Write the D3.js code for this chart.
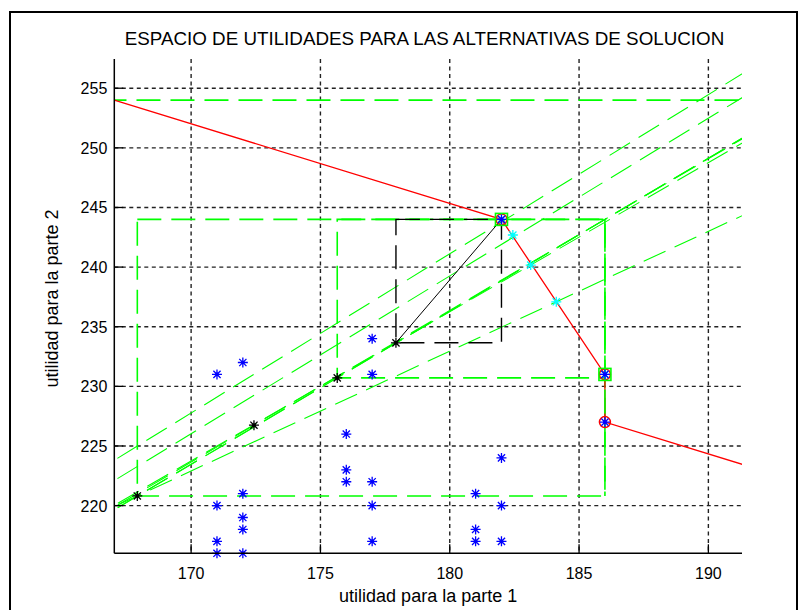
<!DOCTYPE html>
<html><head><meta charset="utf-8">
<script src="https://cdn.jsdelivr.net/npm/d3@7"></script>
<style>body{margin:0;background:#fff}svg{display:block}text{font-family:"Liberation Sans",Arial,sans-serif;fill:#000}</style>
</head><body>
<svg id="c" width="805" height="610"></svg>
<script>
// ---- data ----
const title = "ESPACIO DE UTILIDADES PARA LAS ALTERNATIVAS DE SOLUCION";
const xLabel = "utilidad para la parte 1";
const yLabel = "utilidad para la parte 2";
const xTicks = [170, 175, 180, 185, 190];
const yTicks = [220, 225, 230, 235, 240, 245, 250, 255];
const xDomain = [167.03, 191.3];
const yDomain = [216, 257.45];
// alternatives (blue *)
const alternatives = [
  [171,231],[171,220],[171,217],[171,216],
  [172,232],[172,221],[172,219],[172,218],[172,216],
  [176,226],[176,223],[176,222],
  [177,234],[177,231],[177,222],[177,220],[177,217],
  [181,221],[181,218],[181,217],
  [182,224],[182,220],[182,217],
  [182,244],[186,231],[186,227]
];
// Pareto frontier (red)
const frontier = [[167.03,254],[182,244],[186,231],[186,227],[192,223]];
// disagreement points (black *)
const disagreement = [[167.92,220.81],[172.43,226.74],[175.65,230.71],[177.92,233.65]];
// solutions on frontier (cyan *)
const solutions = [[182.44,242.69],[183.13,240.17],[184.12,237.09],[182,244],[186,231]];
// frontier vertices marked with green squares
const squares = [[182,244],[186,231]];
// red circles
const circles = [[182,244],[186,231],[186,227]];
// green dashed rectangles [x0,y0,x1,y1]
const greenRects = [[167.92,220.81,186,244],[175.65,230.71,186,244],[160,210,195,254]];
// black dashed rectangle
const blackRect = [177.92,233.65,182,244];
// black solid segment
const blackSeg = [[177.92,233.65],[182,244]];
// green dashed diagonal lines (two points each, extended)
const greenLines = [
  [167.92,220.81,186,244],
  [172.43,226.74,186,244],
  [175.65,230.71,186,244],
  [177.92,233.65,183.13,240.17],
  [167.92,220.81,184.12,237.09],
  [167.03,223.8,191.3,256.2],
  [167.03,222.1,191.3,254.2]
];

// ---- chart ----
const svg = d3.select("#c");
const L = 114.3, R = 742, T = 59, B = 553.3;
const x = d3.scaleLinear().domain(xDomain).range([L, R]);
const y = d3.scaleLinear().domain(yDomain).range([B, T]);

svg.append("rect").attr("x",0).attr("y",0).attr("width",805).attr("height",610).attr("fill","#fff");
svg.append("rect").attr("x",10).attr("y",12).attr("width",787).attr("height",620)
  .attr("fill","none").attr("stroke","#000").attr("stroke-width",2);

svg.append("defs").append("clipPath").attr("id","clip")
  .append("rect").attr("x",L).attr("y",T).attr("width",R-L).attr("height",B-T);
const g = svg.append("g").attr("clip-path","url(#clip)");

// grid
g.selectAll(".gx").data(xTicks).join("line")
  .attr("x1",d=>x(d)).attr("x2",d=>x(d)).attr("y1",T).attr("y2",B)
  .attr("stroke","#222").attr("stroke-width",1.4).attr("stroke-dasharray","4,3.5");
g.selectAll(".gy").data(yTicks).join("line")
  .attr("x1",L).attr("x2",R).attr("y1",d=>y(d)).attr("y2",d=>y(d))
  .attr("stroke","#222").attr("stroke-width",1.4).attr("stroke-dasharray","4,3.5");

// green diagonal lines extended over domain
g.selectAll(".gl").data(greenLines).join("line")
  .each(function(d){
    const s = (d[3]-d[1])/(d[2]-d[0]);
    const xa = xDomain[0]-1, xb = xDomain[1]+1;
    d3.select(this).attr("x1",x(xa)).attr("y1",y(d[1]+s*(xa-d[0])))
      .attr("x2",x(xb)).attr("y2",y(d[1]+s*(xb-d[0])));
  })
  .attr("stroke","#00ff00").attr("stroke-width",1.1).attr("stroke-dasharray","24,10");

// green rectangles
g.selectAll(".gr").data(greenRects).join("rect")
  .attr("x",d=>x(d[0])).attr("y",d=>y(d[3]))
  .attr("width",d=>x(d[2])-x(d[0])).attr("height",d=>y(d[1])-y(d[3]))
  .attr("fill","none").attr("stroke","#00ff00").attr("stroke-width",1.6).attr("stroke-dasharray","24,10");

// black dashed rect
g.append("rect").attr("x",x(blackRect[0])).attr("y",y(blackRect[3]))
  .attr("width",x(blackRect[2])-x(blackRect[0])).attr("height",y(blackRect[1])-y(blackRect[3]))
  .attr("fill","none").attr("stroke","#000").attr("stroke-width",1.4).attr("stroke-dasharray","24,10");

// black segment
g.append("path").attr("d",d3.line().x(d=>x(d[0])).y(d=>y(d[1]))(blackSeg))
  .attr("stroke","#000").attr("stroke-width",1).attr("fill","none");

// red frontier
g.append("path").attr("d",d3.line().x(d=>x(d[0])).y(d=>y(d[1]))(frontier))
  .attr("stroke","#ff0000").attr("stroke-width",1.3).attr("fill","none");

// green vertical edge redrawn over red (as in reference)
g.append("line").attr("x1",x(186)).attr("x2",x(186)).attr("y1",y(244)).attr("y2",y(220.81))
  .attr("stroke","#00ff00").attr("stroke-width",1.6).attr("stroke-dasharray","24,10");

const star = "M-5,0L5,0M0,-5L0,5M-3.6,-3.6L3.6,3.6M-3.6,3.6L3.6,-3.6";
function stars(data, color){
  const s = svg.append("g");
  s.selectAll("path").data(data).join("path")
    .attr("transform",d=>`translate(${x(d[0])},${y(d[1])})`)
    .attr("d",star).attr("stroke",color).attr("stroke-width",1.3).attr("fill","none");
  s.selectAll("circle").data(data).join("circle")
    .attr("cx",d=>x(d[0])).attr("cy",d=>y(d[1])).attr("r",1.8).attr("fill",color);
}
// red circles
svg.append("g").selectAll("circle").data(circles).join("circle")
  .attr("cx",d=>x(d[0])).attr("cy",d=>y(d[1])).attr("r",5.5)
  .attr("fill","none").attr("stroke","#ff0000").attr("stroke-width",1.5);
stars(solutions,"#00ffff");
stars(alternatives,"#0000ff");
stars(disagreement,"#000");
svg.append("g").selectAll("rect").data(squares).join("rect")
  .attr("x",d=>x(d[0])-6).attr("y",d=>y(d[1])-6).attr("width",12).attr("height",12)
  .attr("fill","none").attr("stroke","#00ff00").attr("stroke-width",1.6);

// axes
svg.append("line").attr("x1",L).attr("x2",L).attr("y1",T).attr("y2",B).attr("stroke","#000").attr("stroke-width",1.5);
svg.append("line").attr("x1",L).attr("x2",R).attr("y1",B).attr("y2",B).attr("stroke","#000").attr("stroke-width",1.5);
svg.selectAll(".tx").data(xTicks).join("line")
  .attr("x1",d=>x(d)).attr("x2",d=>x(d)).attr("y1",B).attr("y2",B-9).attr("stroke","#000").attr("stroke-width",1.3);
svg.selectAll(".ty").data(yTicks).join("line")
  .attr("x1",L).attr("x2",L+9).attr("y1",d=>y(d)).attr("y2",d=>y(d)).attr("stroke","#000").attr("stroke-width",1.3);
svg.selectAll(".lx").data(xTicks).join("text")
  .attr("x",d=>x(d)).attr("y",B+26).attr("text-anchor","middle").attr("font-size",16).text(d=>d);
svg.selectAll(".ly").data(yTicks).join("text")
  .attr("x",L-7).attr("y",d=>y(d)+6).attr("text-anchor","end").attr("font-size",16).text(d=>d);

svg.append("text").attr("x",(L+R)/2).attr("y",B+49).attr("text-anchor","middle").attr("font-size",18).text(xLabel);
svg.append("text").attr("transform",`translate(58,298.5) rotate(-90)`).attr("text-anchor","middle").attr("font-size",18).text(yLabel);
svg.append("text").attr("x",424.5).attr("y",45).attr("text-anchor","middle").attr("font-size",18.8).text(title);
</script>
</body></html>
